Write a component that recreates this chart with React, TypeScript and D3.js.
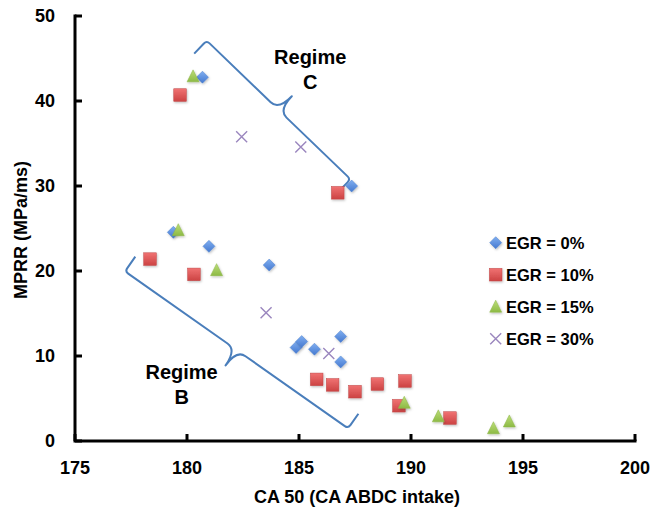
import React from "react";
import * as d3 from "d3";

// ---- data (CA50 [deg CA ABDC intake], MPRR [MPa/ms]) ----
const egr0: [number, number][] = [
  [180.69, 42.8], [187.35, 30.0], [179.39, 24.55], [180.98, 22.9], [183.67, 20.7],
  [184.87, 11.0], [185.12, 11.7], [185.69, 10.8], [186.86, 12.3], [186.86, 9.3],
];
const egr10: [number, number][] = [
  [179.69, 40.7], [186.73, 29.2], [178.35, 21.4], [180.31, 19.6], [185.79, 7.25],
  [186.5, 6.6], [187.5, 5.8], [188.5, 6.7], [189.73, 7.06], [189.46, 4.15], [191.74, 2.7],
];
const egr15: [number, number][] = [
  [180.27, 42.9], [179.61, 24.8], [181.32, 20.1], [189.7, 4.5], [191.22, 2.9],
  [193.68, 1.5], [194.39, 2.3],
];
const egr30: [number, number][] = [
  [182.44, 35.8], [185.08, 34.6], [183.53, 15.1], [186.33, 10.3],
];
const xTicks = [175, 180, 185, 190, 195, 200];
const yTicks = [0, 10, 20, 30, 40, 50];
const legendLabels = ["EGR = 0%", "EGR = 10%", "EGR = 15%", "EGR = 30%"];
// brace annotations in data space: corner A, corner B, cusp side (+1 / -1)
const braceC = { a: [180.88, 47.1], b: [187.3, 30.8], side: 1 };
const braceB = { a: [177.23, 19.96], b: [187.19, 1.48], side: -1 };
const labelC = { x: 185.5, y: 44.3, lines: ["Regime", "C"] };
const labelB = { x: 179.76, y: 7.26, lines: ["Regime", "B"] };

const W = 652, H = 508;
const x = d3.scaleLinear().domain([175, 200]).range([75, 635]);
const y = d3.scaleLinear().domain([0, 50]).range([441, 16]);

const FONT = "'Liberation Sans', Arial, sans-serif";
const BRACE = "#4A7EBB";

function bracePath(br: { a: number[]; b: number[]; side: number }) {
  const A = [x(br.a[0]), y(br.a[1])];
  const B = [x(br.b[0]), y(br.b[1])];
  const dx = B[0] - A[0], dy = B[1] - A[1];
  const L = Math.hypot(dx, dy);
  const u = [dx / L, dy / L];
  // normal: side 1 -> rotate u by -90 (toward upper right for a down-right line)
  const n = br.side > 0 ? [u[1], -u[0]] : [-u[1], u[0]];
  const h = 18, c = 19, r1 = 4, r2 = 11;
  const p = (P: number[], ku: number, kn: number) =>
    [P[0] + u[0] * ku + n[0] * kn, P[1] + u[1] * ku + n[1] * kn];
  const M = [(A[0] + B[0]) / 2, (A[1] + B[1]) / 2];
  const pts = {
    e1: p(A, 0, -h), c1a: p(A, 0, -r1), c1b: p(A, r1, 0),
    m1: p(M, -r2, 0), T: p(M, 0, c), m2: p(M, r2, 0),
    c2a: p(B, -r1, 0), c2b: p(B, 0, -r1), e2: p(B, 0, -h),
  };
  const f = (q: number[]) => `${q[0].toFixed(1)},${q[1].toFixed(1)}`;
  return `M${f(pts.e1)} L${f(pts.c1a)} Q${f(A)} ${f(pts.c1b)} L${f(pts.m1)} Q${f(M)} ${f(pts.T)} Q${f(M)} ${f(pts.m2)} L${f(pts.c2a)} Q${f(B)} ${f(pts.c2b)} L${f(pts.e2)}`;
}

const Diamond = ({ cx, cy }: { cx: number; cy: number }) => (
  <path d={`M${cx},${cy - 6} L${cx + 6},${cy} L${cx},${cy + 6} L${cx - 6},${cy} Z`}
    fill="url(#gBlue)" stroke="#4A7ECC" strokeWidth={0.5} filter="url(#sh)" />
);
const Square = ({ cx, cy }: { cx: number; cy: number }) => (
  <rect x={cx - 6.3} y={cy - 6.3} width={12.6} height={12.6}
    fill="url(#gRed)" stroke="#C04545" strokeWidth={0.5} filter="url(#sh)" />
);
const Triangle = ({ cx, cy }: { cx: number; cy: number }) => (
  <path d={`M${cx},${cy - 6.5} L${cx + 6},${cy + 5.5} L${cx - 6},${cy + 5.5} Z`}
    fill="url(#gGreen)" stroke="#8DB646" strokeWidth={0.5} filter="url(#sh)" />
);
const Cross = ({ cx, cy }: { cx: number; cy: number }) => (
  <path d={`M${cx - 5.5},${cy - 5.5} L${cx + 5.5},${cy + 5.5} M${cx + 5.5},${cy - 5.5} L${cx - 5.5},${cy + 5.5}`}
    stroke="#9A86BE" strokeWidth={1.4} fill="none" />
);

const markers = [Diamond, Square, Triangle, Cross];
const series = [egr0, egr10, egr15, egr30];

export default function App() {
  return (
    <svg width={W} height={H} style={{ position: "absolute", left: 0, top: 0, background: "#fff" }}
      fontFamily={FONT}>
      <defs>
        <linearGradient id="gBlue" x1="0" y1="0" x2="0" y2="1">
          <stop offset="0" stopColor="#7FAEF0" />
          <stop offset="1" stopColor="#4579D0" />
        </linearGradient>
        <linearGradient id="gRed" x1="0" y1="0" x2="0" y2="1">
          <stop offset="0" stopColor="#F07272" />
          <stop offset="1" stopColor="#CC4343" />
        </linearGradient>
        <linearGradient id="gGreen" x1="0" y1="0" x2="0" y2="1">
          <stop offset="0" stopColor="#BCDD78" />
          <stop offset="1" stopColor="#8DBA45" />
        </linearGradient>
        <filter id="sh" x="-50%" y="-50%" width="200%" height="200%">
          <feDropShadow dx="0.8" dy="1.2" stdDeviation="0.8" floodColor="#000" floodOpacity="0.25" />
        </filter>
      </defs>
      <rect width={W} height={H} fill="#fff" />

      {/* braces */}
      <path d={bracePath(braceC)} fill="none" stroke={BRACE} strokeWidth={2} strokeLinejoin="round" />
      <path d={bracePath(braceB)} fill="none" stroke={BRACE} strokeWidth={2} strokeLinejoin="round" />

      {/* regime labels */}
      {[labelC, labelB].map((lb, i) => (
        <text key={i} x={x(lb.x)} y={y(lb.y)} textAnchor="middle" fontSize={20} fontWeight="bold" fill="#000">
          {lb.lines.map((t, j) => (
            <tspan key={j} x={x(lb.x)} dy={j === 0 ? 0 : 24.5}>{t}</tspan>
          ))}
        </text>
      ))}

      {/* points */}
      {series.map((s, si) => {
        const M = markers[si];
        return <g key={si}>{s.map((d, i) => <M key={i} cx={x(d[0])} cy={y(d[1])} />)}</g>;
      })}

      {/* axes */}
      <g stroke="#000" strokeWidth={3} fill="none">
        <path d={`M${x(175)},${y(50)} V${y(0)} H${x(200)}`} strokeLinecap="square" />
        {yTicks.map((t) => <line key={"y" + t} x1={x(175)} x2={x(175) + 7} y1={y(t)} y2={y(t)} />)}
        {xTicks.map((t) => <line key={"x" + t} x1={x(t)} x2={x(t)} y1={y(0)} y2={y(0) - 7} />)}
      </g>
      {yTicks.map((t) => (
        <text key={"yl" + t} x={55} y={y(t)} dy="0.36em" textAnchor="end" fontSize={18} fontWeight="bold">{t}</text>
      ))}
      {xTicks.map((t) => (
        <text key={"xl" + t} x={x(t)} y={474.3} textAnchor="middle" fontSize={18} fontWeight="bold">{t}</text>
      ))}
      <text x={357} y={503} textAnchor="middle" fontSize={18} fontWeight="bold">CA 50 (CA ABDC intake)</text>
      <text transform="translate(27,230) rotate(-90)" textAnchor="middle" fontSize={18} fontWeight="bold">MPRR (MPa/ms)</text>

      {/* legend */}
      {legendLabels.map((lab, i) => {
        const M = markers[i];
        const cy = 242.7 + i * 32;
        return (
          <g key={lab}>
            <M cx={495.7} cy={cy} />
            <text x={506} y={cy} dy="0.36em" fontSize={16.5} fontWeight="bold">{lab}</text>
          </g>
        );
      })}
    </svg>
  );
}
